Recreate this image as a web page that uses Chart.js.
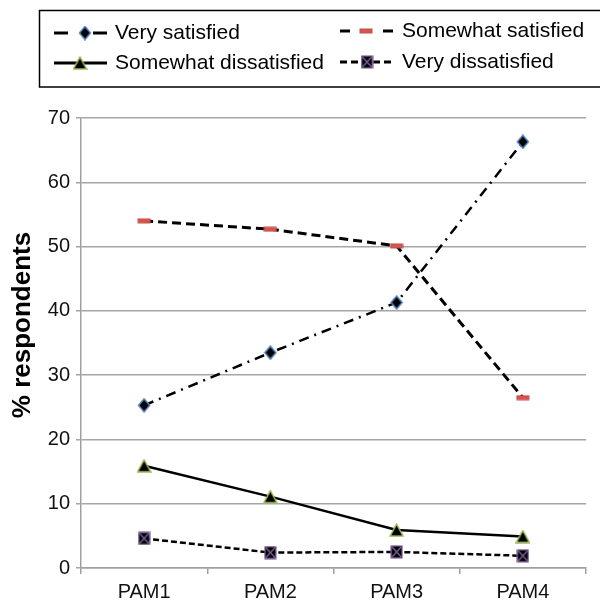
<!DOCTYPE html>
<html>
<head>
<meta charset="utf-8">
<script src="https://cdn.jsdelivr.net/npm/chart.js@4.4.0/dist/chart.umd.min.js"></script>
<style>
html, body { margin: 0; padding: 0; background: #fff; }
</style>
</head>
<body>
<canvas id="grafico" width="600" height="603"></canvas>
<script>
// === Dados ===
const categorias = ["PAM1", "PAM2", "PAM3", "PAM4"];
const verySatisfied = [25.3, 33.5, 41.3, 66.3];
const somewhatSatisfied = [54.0, 52.7, 50.1, 26.5];
const somewhatDissatisfied = [15.9, 11.1, 5.9, 4.9];
const veryDissatisfied = [4.6, 2.4, 2.5, 1.9];
const yTicks = [0, 10, 20, 30, 40, 50, 60, 70];
const tituloY = "% respondents";

const fonte = "'Liberation Sans', Arial, sans-serif";

// === Marcadores desenhados em canvas ===
function marcador(w, h, desenha) {
    const c = document.createElement("canvas");
    c.width = w; c.height = h;
    desenha(c.getContext("2d"), w, h);
    return c;
}

const diamante = marcador(14, 15, (ctx, w, h) => {
    ctx.beginPath();
    ctx.moveTo(w / 2, 1); ctx.lineTo(w - 1.5, h / 2); ctx.lineTo(w / 2, h - 1); ctx.lineTo(1.5, h / 2); ctx.closePath();
    ctx.fillStyle = "#000"; ctx.fill();
    ctx.strokeStyle = "#4f81bd"; ctx.lineWidth = 1.5; ctx.stroke();
});

const traco = marcador(14, 6, (ctx, w, h) => {
    ctx.fillStyle = "#d9534f";
    ctx.fillRect(1, 1, w - 2, h - 2);
    ctx.strokeStyle = "#c0504d"; ctx.lineWidth = 1;
    ctx.strokeRect(1, 1, w - 2, h - 2);
});

const triangulo = marcador(15, 14, (ctx, w, h) => {
    ctx.beginPath();
    ctx.moveTo(w / 2, 1); ctx.lineTo(w - 1, h - 1); ctx.lineTo(1, h - 1); ctx.closePath();
    ctx.fillStyle = "#000"; ctx.fill();
    ctx.strokeStyle = "#9bbb59"; ctx.lineWidth = 1.5; ctx.stroke();
});

const quadradoX = marcador(13, 14, (ctx, w, h) => {
    ctx.fillStyle = "#000";
    ctx.fillRect(1, 1, w - 2, h - 2);
    ctx.strokeStyle = "#8064a2"; ctx.lineWidth = 1.2;
    ctx.strokeRect(1, 1, w - 2, h - 2);
    ctx.beginPath();
    ctx.moveTo(2, 2); ctx.lineTo(w - 2, h - 2);
    ctx.moveTo(w - 2, 2); ctx.lineTo(2, h - 2);
    ctx.stroke();
});

// === Legenda com caixa (igual ao Excel) + título do eixo Y ===
const legendaCaixa = {
    id: "legendaCaixa",
    afterDraw(chart) {
        const ctx = chart.ctx;
        ctx.save();
        ctx.strokeStyle = "#000";
        ctx.lineWidth = 1.5;
        ctx.strokeRect(39.5, 10.5, 570, 76.5);

        const posicoes = [
            { x1: 54, x2: 107, mx: 85, tx: 115, y: 33 },
            { x1: 340, x2: 393, mx: 366, tx: 402, y: 31 },
            { x1: 54, x2: 107, mx: 80, tx: 115, y: 63 },
            { x1: 340, x2: 393, mx: 367, tx: 402, y: 62 }
        ];
        chart.data.datasets.forEach((ds, i) => {
            const p = posicoes[i];
            ctx.beginPath();
            ctx.setLineDash(ds.legendDash);
            ctx.lineWidth = 3;
            ctx.strokeStyle = "#000";
            ctx.moveTo(p.x1, p.y);
            ctx.lineTo(p.x2, p.y);
            ctx.stroke();
            ctx.setLineDash([]);
            const img = ds.pointStyle;
            ctx.drawImage(img, p.mx - img.width / 2, p.y - img.height / 2);
            ctx.fillStyle = "#000";
            ctx.font = "21px " + fonte;
            ctx.textBaseline = "middle";
            ctx.fillText(ds.label, p.tx, p.y);
        });

        // título do eixo Y (um pouco acima do centro, como no original)
        ctx.translate(23, 325);
        ctx.rotate(-Math.PI / 2);
        ctx.font = "bold 26px " + fonte;
        ctx.textAlign = "center";
        ctx.textBaseline = "middle";
        ctx.fillStyle = "#000";
        ctx.fillText(tituloY, 0, 0);
        ctx.restore();
    }
};

// === Criação do gráfico ===
const grafico = new Chart(document.getElementById("grafico"), {
    type: "line",
    data: {
        labels: categorias,
        datasets: [
            { label: "Very satisfied", data: verySatisfied, borderColor: "#000", borderWidth: 2.5, borderDash: [10, 6, 2, 6], legendDash: [14, 25], pointStyle: diamante, tension: 0 },
            { label: "Somewhat satisfied", data: somewhatSatisfied, borderColor: "#000", borderWidth: 3, borderDash: [9, 5], legendDash: [10, 33], pointStyle: traco, tension: 0 },
            { label: "Somewhat dissatisfied", data: somewhatDissatisfied, borderColor: "#000", borderWidth: 2.5, borderDash: [], legendDash: [], pointStyle: triangulo, tension: 0 },
            { label: "Very dissatisfied", data: veryDissatisfied, borderColor: "#000", borderWidth: 2.5, borderDash: [6, 3], legendDash: [7, 4], pointStyle: quadradoX, tension: 0 }
        ]
    },
    options: {
        responsive: false,
        animation: false,
        devicePixelRatio: 1,
        layout: { padding: { top: 118, right: 14, left: 0, bottom: 0 } },
        plugins: {
            legend: { display: false },
            tooltip: { enabled: false }
        },
        scales: {
            x: {
                offset: true,
                grid: { offset: true, drawOnChartArea: false, color: "#a0a0a0", lineWidth: 1.5, tickLength: 6 },
                border: { color: "#a0a0a0", width: 1.5 },
                ticks: { color: "#111", font: { family: fonte, size: 20 }, padding: 6 },
                afterFit(scale) { scale.height = 35; }
            },
            y: {
                min: 0,
                max: 70,
                afterBuildTicks(scale) { scale.ticks = yTicks.map(v => ({ value: v })); },
                grid: { color: "#a6a6a6", lineWidth: 1.5, tickLength: 5 },
                border: { color: "#a0a0a0", width: 1.5 },
                ticks: { color: "#111", font: { family: fonte, size: 20 }, padding: 6 },
                afterFit(scale) { scale.width = 81; }
            }
        }
    },
    plugins: [legendaCaixa]
});
</script>
</body>
</html>
